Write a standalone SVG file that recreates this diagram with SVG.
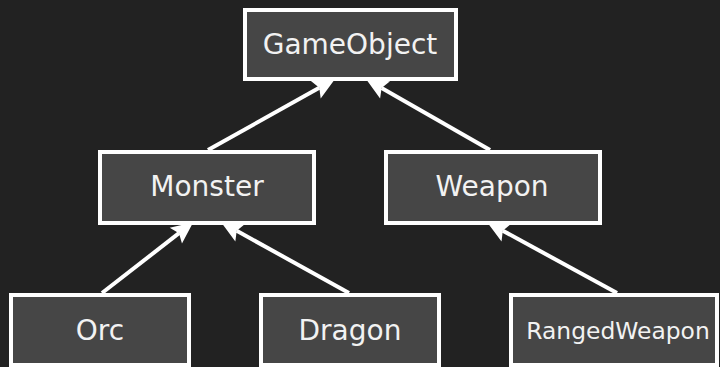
<svg xmlns="http://www.w3.org/2000/svg" width="720" height="367" viewBox="0 0 720 367">
<style>
.box{fill:#464646;stroke:#ffffff;stroke-width:4}
.lbl{fill:#f2f2f2;font-family:"DejaVu Sans",sans-serif;font-size:28px;text-anchor:middle}
.sm{font-size:23.4px}
.edge{stroke:#ffffff;stroke-width:4;fill:none}
</style>
<defs>
<marker id="arr" markerUnits="userSpaceOnUse" viewBox="-1 -12 25 24" markerWidth="25" markerHeight="24" refX="4" refY="0" orient="auto">
<path d="M0,-10 L22,0 L0,10 L4,0 z" fill="#ffffff"/>
</marker>
</defs>
<rect width="720" height="367" fill="#222222"/>
<g id="GameObject"><rect class="box" x="245" y="10" width="211" height="69"/><text class="lbl" x="350" y="54">GameObject</text></g>
<g id="Monster"><rect class="box" x="100" y="152" width="214" height="71"/><text class="lbl" x="207" y="196">Monster</text></g>
<g id="Weapon"><rect class="box" x="386" y="152" width="214" height="71"/><text class="lbl" x="492" y="196">Weapon</text></g>
<g id="Orc"><rect class="box" x="11" y="295" width="178" height="70"/><text class="lbl" x="100" y="340">Orc</text></g>
<g id="Dragon"><rect class="box" x="261" y="295" width="178" height="70"/><text class="lbl" x="350" y="340">Dragon</text></g>
<g id="RangedWeapon"><rect class="box" x="511" y="295" width="206" height="70"/><text class="lbl sm" x="618" y="339">RangedWeapon</text></g>
<g id="connectors">
<line class="edge" x1="208" y1="150" x2="319.3" y2="87.8" marker-end="url(#arr)"/>
<line class="edge" x1="490" y1="150" x2="381.6" y2="87.9" marker-end="url(#arr)"/>
<line class="edge" x1="102" y1="293" x2="179" y2="233.2" marker-end="url(#arr)"/>
<line class="edge" x1="349" y1="293" x2="236.7" y2="230.8" marker-end="url(#arr)"/>
<line class="edge" x1="617" y1="293" x2="502.8" y2="230.7" marker-end="url(#arr)"/>
</g>
</svg>
